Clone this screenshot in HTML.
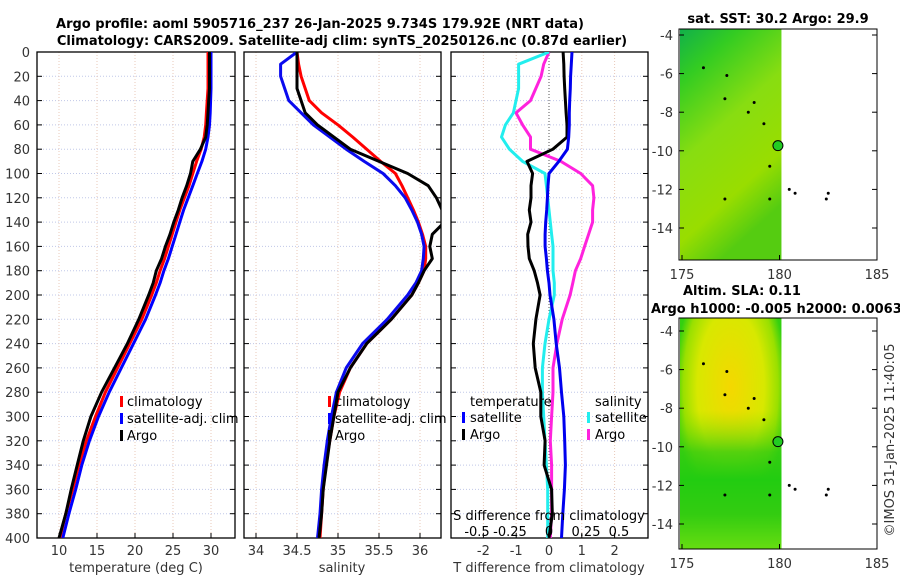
<!DOCTYPE html>
<html><head><meta charset="utf-8"><style>
body{margin:0;background:#fff;}
svg text{font-family:"DejaVu Sans","Liberation Sans",sans-serif;}
</style></head><body>
<svg id="c" width="900" height="580" xmlns="http://www.w3.org/2000/svg">
<defs>
<linearGradient id="sst" x1="0" y1="0" x2="0.4" y2="1">
<stop offset="0" stop-color="#11b04a"/><stop offset="0.2" stop-color="#33cc22"/><stop offset="0.5" stop-color="#88dd11"/><stop offset="0.8" stop-color="#99dd00"/><stop offset="1" stop-color="#55cc11"/></linearGradient>
<radialGradient id="sla1" cx="0.5" cy="0.3" r="0.55"><stop offset="0" stop-color="#f4d800"/><stop offset="0.6" stop-color="#d8e800"/><stop offset="0.85" stop-color="#99e000"/><stop offset="1" stop-color="#33d010"/></radialGradient>
<linearGradient id="sla2" x1="0" y1="0" x2="0" y2="1"><stop offset="0" stop-color="#ccee00" stop-opacity="0"/><stop offset="0.4" stop-color="#88dd00" stop-opacity="0"/><stop offset="0.58" stop-color="#33cc11" stop-opacity="0.8"/><stop offset="0.7" stop-color="#22cc11"/><stop offset="0.85" stop-color="#33cc11"/><stop offset="1" stop-color="#66dd11"/></linearGradient>
</defs>
<text x="320" y="28" text-anchor="middle" font-size="13" font-weight="bold">Argo profile: aoml 5905716_237 26-Jan-2025 9.734S 179.92E (NRT data)</text>
<text x="342" y="45" text-anchor="middle" font-size="13" font-weight="bold">Climatology: CARS2009. Satellite-adj clim: synTS_20250126.nc (0.87d earlier)</text>
<g id="g"></g>
</svg>
<script>
const depths=[0,10,20,30,40,50,60,70,80,90,100,110,120,130,140,150,160,170,180,190,200,220,240,260,280,300,320,340,360,380,400];
const climT=[29.6,29.6,29.6,29.6,29.5,29.4,29.3,29.1,28.7,28.1,27.6,27.1,26.5,25.9,25.4,24.9,24.4,23.9,23.3,22.8,22.2,20.9,19.3,17.7,16.1,14.8,13.6,12.6,11.8,10.9,10.1];
const satT=[30.0,30.0,30.0,30.0,29.95,29.9,29.8,29.6,29.3,28.8,28.2,27.6,27.0,26.4,25.9,25.4,24.9,24.4,23.8,23.3,22.7,21.4,19.8,18.2,16.6,15.2,14.0,13.0,12.2,11.3,10.5];
const argoT=[29.8,29.8,29.8,29.8,29.7,29.6,29.5,29.3,28.6,27.6,27.3,26.8,26.2,25.7,25.1,24.6,24.0,23.5,22.8,22.4,21.8,20.5,19.0,17.3,15.6,14.2,13.2,12.4,11.6,10.9,10.0];
const climS=[34.5,34.52,34.55,34.6,34.65,34.8,35.0,35.18,35.35,35.52,35.7,35.78,35.85,35.92,35.98,36.03,36.07,36.07,36.05,35.98,35.9,35.65,35.35,35.15,35.02,34.95,34.9,34.85,34.82,34.8,34.78];
const satS=[34.5,34.3,34.3,34.35,34.4,34.55,34.7,34.9,35.1,35.32,35.55,35.7,35.82,35.9,35.97,36.02,36.05,36.04,36.02,35.95,35.85,35.6,35.3,35.1,34.98,34.92,34.87,34.83,34.8,34.78,34.75];
const argoS=[34.5,34.5,34.5,34.5,34.55,34.6,34.75,34.95,35.15,35.5,35.85,36.1,36.2,36.27,36.3,36.15,36.12,36.15,36.05,35.98,35.9,35.65,35.35,35.15,35.0,34.95,34.9,34.86,34.82,34.8,34.77];
const dTsat=[0.7,0.68,0.66,0.65,0.63,0.62,0.62,0.6,0.56,0.3,0.0,-0.03,-0.05,-0.07,-0.1,-0.12,-0.12,-0.08,-0.05,0.0,0.03,0.15,0.22,0.32,0.38,0.45,0.48,0.5,0.47,0.42,0.38];
const dTargo=[0.43,0.45,0.46,0.48,0.5,0.52,0.55,0.55,0.12,-0.67,-0.5,-0.55,-0.55,-0.6,-0.55,-0.65,-0.64,-0.6,-0.45,-0.35,-0.27,-0.4,-0.48,-0.42,-0.25,-0.25,-0.12,-0.15,0.08,0.1,0.0];
const dSsat=[0,-0.23,-0.23,-0.23,-0.25,-0.27,-0.33,-0.36,-0.3,-0.2,-0.03,-0.02,-0.01,0.0,0.01,0.02,0.03,0.03,0.03,0.04,0.04,0.0,-0.03,-0.05,-0.05,-0.04,-0.03,-0.02,-0.01,-0.01,-0.01];
const dSargo=[0,-0.04,-0.06,-0.1,-0.14,-0.25,-0.2,-0.14,-0.14,0.09,0.24,0.33,0.34,0.33,0.33,0.3,0.27,0.24,0.2,0.18,0.16,0.1,0.06,0.03,0.03,0.02,0.01,0.02,0.02,0.02,0.01];
const yTicks=[0,20,40,60,80,100,120,140,160,180,200,220,240,260,280,300,320,340,360,380,400];
const tTicks=[10,15,20,25,30], sTicks=[34,34.5,35,35.5,36], dTTicks=[-2,-1,0,1,2], dSTicks=[-0.5,-0.25,0,0.25,0.5];
const dSLabels=['-0.5','-0.25','0','0.25','0.5'];
const latTicks=[-4,-6,-8,-10,-12,-14], lonTicks=[175,180,185];
const floats=[[176.1,-5.7],[177.3,-6.1],[177.2,-7.3],[178.7,-7.5],[178.4,-8.0],[179.2,-8.6],[179.5,-10.8],[180.5,-12.0],[180.8,-12.2],[182.5,-12.2],[182.4,-12.5],[177.2,-12.5],[179.5,-12.5]];
const argoPos=[179.92,-9.734];

const NS='http://www.w3.org/2000/svg', G=document.getElementById('g');
function el(t,a,p){const e=document.createElementNS(NS,t);for(const k in a)e.setAttribute(k,a[k]);(p||G).appendChild(e);return e;}
const Y=d=>52+d*1.215;
const xT=v=>59+(v-10)*7.6, xS=v=>256+(v-34)*82, xdT=v=>549+v*32.8, xdS=v=>549+v*132;
const panels=[[37,235,'temperature-panel'],[244,441,'salinity-panel'],[451,648,'difference-panel']];
panels.forEach(([x0,x1,nm],i)=>{
  const g=el('g',{});
  
  
  el('clipPath',{id:'cp'+i},g); el('rect',{x:x0,y:52,width:x1-x0,height:486},g.lastChild);
  yTicks.forEach(d=>{el('line',{x1:x0,x2:x1,y1:Y(d),y2:Y(d),stroke:'#c0c8e8','stroke-dasharray':'1,2','stroke-width':1},g);
    el('line',{x1:x0,x2:x0+5,y1:Y(d),y2:Y(d),stroke:'#000'},g);el('line',{x1:x1-5,x2:x1,y1:Y(d),y2:Y(d),stroke:'#000'},g);
    if(i==0){const t=el('text',{x:30,y:Y(d)+5,'text-anchor':'end','font-size':13,fill:'#333'},g);t.textContent=d;}});
  const ticks=[tTicks,sTicks,dTTicks][i], fx=[xT,xS,xdT][i];
  ticks.forEach(v=>{el('line',{x1:fx(v),x2:fx(v),y1:52,y2:538,stroke:'#e8c8b8','stroke-dasharray':'1,2'},g);
    el('line',{x1:fx(v),x2:fx(v),y1:533,y2:538,stroke:'#000'},g);
    const t=el('text',{x:fx(v),y:555,'text-anchor':'middle','font-size':13,fill:'#333'},g);t.textContent=v;});
  el('rect',{x:x0,y:52,width:x1-x0,height:486,fill:'none',stroke:'#000','stroke-width':1.3},g);
});
function line(xs,fx,col,name,ci,w){const p=el('path',{d:xs.map((v,k)=>(k?'L':'M')+fx(v).toFixed(1)+','+Y(depths[k]).toFixed(1)).join(''),fill:'none',stroke:col,'stroke-width':w||3,'clip-path':'url(#cp'+ci+')','stroke-linejoin':'round'});
  }
el('line',{x1:549,x2:549,y1:52,y2:538,stroke:'#555','stroke-dasharray':'1,2'});
line(climT,xT,'#f00','climatology-temperature-line',0);line(satT,xT,'#0000ff','satellite-temperature-line',0);line(argoT,xT,'#000','argo-temperature-line',0);
line(climS,xS,'#f00','climatology-salinity-line',1);line(satS,xS,'#0a0aee','satellite-salinity-line',1);line(argoS,xS,'#000','argo-salinity-line',1);
line(dSargo,xdS,'#ff22dd','argo-salinity-diff-line',2);line(dSsat,xdS,'#22eeee','satellite-salinity-diff-line',2);line(dTargo,xdT,'#000','argo-temperature-diff-line',2);line(dTsat,xdT,'#0000ee','satellite-temperature-diff-line',2);
function txt(x,y,s,o){const t=el('text',Object.assign({x:x,y:y,'font-size':13},o||{}));t.textContent=s;return t;}
let t;
[['climatology','#f00'],['satellite-adj. clim','#00f'],['Argo','#000']].forEach(([s,c],k)=>{
  [[120,0],[328,1]].forEach(([x])=>{el('rect',{x:x,y:396+k*17,width:3,height:11,fill:c});t=txt(x+7,406+k*17,s);});});
t=txt(470,406,'temperature');
t=txt(595,406,'salinity');
[['satellite','#00f',462],['Argo','#000',462],['satellite','#22eeee',587],['Argo','#ff22dd',587]].forEach(([s,c,x],k)=>{const r=k%2;el('rect',{x:x,y:412+r*17,width:3,height:11,fill:c});t=txt(x+8,422+r*17,s);});
t=txt(549,520,'S difference from climatology',{'text-anchor':'middle'});
dSTicks.forEach((v,k)=>{t=txt(xdS(v)-(v<0?6:0)+(v>0?4:0),536,dSLabels[k],{'text-anchor':'middle'});});
t=txt(136,572,'temperature (deg C)',{'text-anchor':'middle',fill:'#333'});
t=txt(342,572,'salinity',{'text-anchor':'middle',fill:'#333'});
t=txt(549,572,'T difference from climatology',{'text-anchor':'middle',fill:'#333'});
function map(y0,y1,lat4,fillId,name){
  const g=el('g',{});
  const lx=v=>682+(v-175)*19.5, ly=v=>lat4+(-4-v)*19.3;
  el('rect',{x:680,y:y0,width:lx(180.1)-680,height:y1-y0,fill:'url(#'+fillId+')'},g);
  if(fillId=='sla1')el('rect',{x:680,y:y0,width:lx(180.1)-680,height:y1-y0,fill:'url(#sla2)'},g);
  el('rect',{x:679,y:y0,width:198,height:y1-y0,fill:'none',stroke:'#000'},g);
  latTicks.forEach(v=>{el('line',{x1:679,x2:684,y1:ly(v),y2:ly(v),stroke:'#000'},g);el('line',{x1:872,x2:877,y1:ly(v),y2:ly(v),stroke:'#000'},g);
    const t=el('text',{x:673,y:ly(v)+5,'text-anchor':'end','font-size':13,fill:'#333'},g);t.textContent=v;});
  lonTicks.forEach(v=>{el('line',{x1:lx(v),x2:lx(v),y1:y1-5,y2:y1,stroke:'#000'},g);
    const t=el('text',{x:lx(v),y:y1+19,'text-anchor':'middle','font-size':13,fill:'#333'},g);t.textContent=v;});
  floats.forEach(([a,b])=>{const c=el('circle',{cx:lx(a),cy:ly(b),r:1.5,fill:'#000'},g);});
  const c=el('circle',{cx:lx(argoPos[0]),cy:ly(argoPos[1]),r:5,fill:'#22cc22',stroke:'#000'},g);
}
map(29,260,35,'sst','sst-map');
map(318,549,331,'sla1','sla-map');
t=txt(778,23,'sat. SST: 30.2 Argo: 29.9',{'text-anchor':'middle','font-weight':'bold'});
t=txt(683,295,'Altim. SLA: 0.11',{'font-weight':'bold'});
t=txt(651,313,'Argo h1000: -0.005 h2000: 0.0063',{'font-weight':'bold'});
t=txt(0,0,'©IMOS 31-Jan-2025 11:40:05',{'text-anchor':'middle',fill:'#333',transform:'translate(894,440) rotate(-90)'});
</script>
</body></html>
